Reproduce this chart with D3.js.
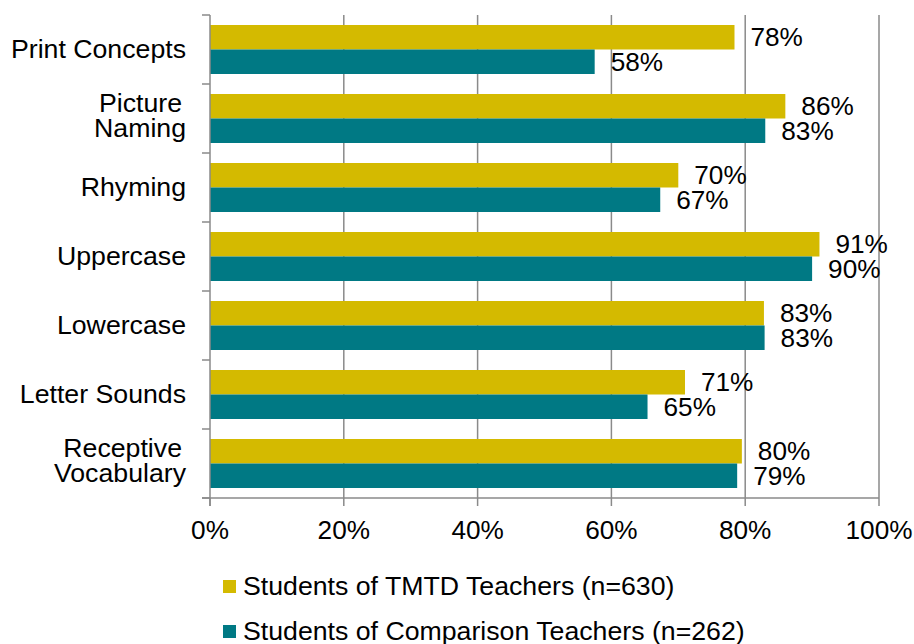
<!DOCTYPE html>
<html>
<head>
<meta charset="utf-8">
<script src="https://cdn.jsdelivr.net/npm/d3@7"></script>
<style>
  body { margin: 0; background: #fff; }
  svg text { font-family: "Liberation Sans", Arial, sans-serif; fill: #000; }
</style>
</head>
<body>
<svg id="chart" width="914" height="644"></svg>
<script>
const categories = [
  ["Print Concepts"],
  ["Picture", "Naming"],
  ["Rhyming"],
  ["Uppercase"],
  ["Lowercase"],
  ["Letter Sounds"],
  ["Receptive", "Vocabulary"]
];
const tmtdValues = [78.4, 86, 70, 91.1, 82.8, 71, 79.5];
const comparisonValues = [57.5, 83, 67.3, 90, 82.9, 65.4, 78.8];
const tmtdLabels = ["78%", "86%", "70%", "91%", "83%", "71%", "80%"];
const comparisonLabels = ["58%", "83%", "67%", "90%", "83%", "65%", "79%"];
const xTicks = [0, 20, 40, 60, 80, 100];
const seriesNames = ["Students of TMTD Teachers (n=630)", "Students of Comparison Teachers (n=262)"];
const seriesColors = ["#D4BA00", "#007984"];

const fontSize = 26.7;
const valueFontSize = 26.2;
const gridColor = "#8a8a8a";
const plotLeft = 210, plotRight = 879, plotTop = 15, plotBottom = 498;

const svg = d3.select("#chart");

const x = d3.scaleLinear().domain([0, 100]).range([plotLeft, plotRight]);
const y = d3.scaleBand()
  .domain(d3.range(categories.length))
  .range([plotTop, plotBottom])
  .paddingInner(0.29)
  .paddingOuter(0.145);
const ySub = d3.scaleBand().domain([0, 1]).range([0, y.bandwidth()]);
const step = y.step();

// gridlines
svg.append("g")
  .selectAll("line")
  .data(xTicks.slice(1))
  .join("line")
  .attr("x1", d => x(d)).attr("x2", d => x(d))
  .attr("y1", plotTop).attr("y2", plotBottom)
  .attr("stroke", gridColor).attr("stroke-width", 1.5);

// bars
const series = [tmtdValues, comparisonValues];
const labels = [tmtdLabels, comparisonLabels];
series.forEach((vals, s) => {
  svg.append("g")
    .selectAll("rect")
    .data(vals)
    .join("rect")
    .attr("x", x(0))
    .attr("y", (d, i) => y(i) + ySub(s))
    .attr("width", d => x(d) - x(0))
    .attr("height", ySub.bandwidth())
    .attr("fill", seriesColors[s]);

  svg.append("g")
    .selectAll("text")
    .data(vals)
    .join("text")
    .attr("x", d => x(d) + 16)
    .attr("y", (d, i) => y(i) + ySub(s) + ySub.bandwidth() / 2 + 9)
    .attr("font-size", valueFontSize)
    .text((d, i) => labels[s][i]);
});

// axes
const axis = svg.append("g").attr("stroke", gridColor).attr("stroke-width", 1.5);
axis.append("line").attr("x1", plotLeft).attr("x2", plotLeft).attr("y1", plotTop).attr("y2", plotBottom + 8);
axis.append("line").attr("x1", plotLeft - 8).attr("x2", plotRight).attr("y1", plotBottom).attr("y2", plotBottom);
axis.selectAll(".ytick")
  .data(d3.range(categories.length + 1))
  .join("line")
  .attr("x1", plotLeft - 8).attr("x2", plotLeft)
  .attr("y1", i => plotTop + i * step).attr("y2", i => plotTop + i * step);
axis.selectAll(".xtick")
  .data(xTicks)
  .join("line")
  .attr("x1", d => x(d)).attr("x2", d => x(d))
  .attr("y1", plotBottom).attr("y2", plotBottom + 8);

// x tick labels
svg.append("g")
  .selectAll("text")
  .data(xTicks)
  .join("text")
  .attr("x", d => x(d))
  .attr("y", 539)
  .attr("text-anchor", "middle")
  .attr("font-size", valueFontSize)
  .text(d => d + "%");

// category labels
svg.append("g")
  .selectAll("text")
  .data(categories)
  .join("text")
  .attr("text-anchor", "end")
  .attr("font-size", fontSize)
  .each(function (lines, i) {
    const c = plotTop + i * step + step / 2;
    const t = d3.select(this);
    if (lines.length === 1) {
      t.append("tspan").attr("x", 186).attr("y", c + 8.5).text(lines[0]);
    } else {
      t.append("tspan").attr("x", 182).attr("y", c - 7).text(lines[0]);
      t.append("tspan").attr("x", 186).attr("y", c + 18).text(lines[1]);
    }
  });

// legend
const legend = svg.append("g")
  .selectAll("g")
  .data(seriesNames)
  .join("g")
  .attr("transform", (d, i) => `translate(223, ${580 + i * 45})`);
legend.append("rect")
  .attr("width", 13).attr("height", 13)
  .attr("fill", (d, i) => seriesColors[i]);
legend.append("text")
  .attr("x", 20).attr("y", 15)
  .attr("font-size", fontSize)
  .text(d => d);
</script>
</body>
</html>
